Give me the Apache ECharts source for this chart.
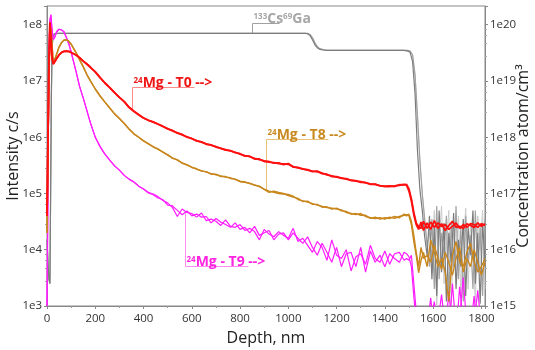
<!DOCTYPE html>
<html>
<head>
<meta charset="utf-8">
<script src="https://cdn.jsdelivr.net/npm/echarts@6/dist/echarts.min.js"></script>
<style>
html,body{margin:0;padding:0;background:#fff}
#main{width:535px;height:350px}
</style>
</head>
<body>
<div id="main"></div>
<script>
/* depth grid of the Mg profiles, nm */
const mgDepth=[0,4,8,12,16,20,26,32,40,50,60,70,80,90,100,110,120,135,150,165,180,200,220,240,260,280,300,320,340,360,380,400,
  420,440,460,480,500,520,540,560,580,600,
  620,640,660,680,700,720,740,760,780,800,
  820,840,860,880,900,920,940,960,980,1000,
  1020,1040,1060,1080,1100,1120,1140,1160,1180,1200,
  1220,1240,1260,1280,1300,1320,1340,1360,1380,1400,
  1420,1440,1460,1480,
  1490,1500,1510,1520,1530,1540,1550,1560,
  1575,1590,1605,1620,1635,1650,1665,1680,1695,1710,1725,1740,1755,1770,1785,1800,1815]

/* 24Mg - T0, two runs (c/s) */
const t0A=[4e4,1e6,2e7,1.1e8,6e7,2.8e7,2.0e7,2.2e7,2.5e7,2.9e7,3.2e7,3.35e7,3.4e7,3.35e7,3.2e7,3.05e7,2.9e7,2.6e7,2.25e7,2.0e7,1.75e7,1.45e7,1.15e7,9.2e6,7.6e6,6.2e6,5.1e6,4.3e6,3.4e6,2.9e6,2.5e6,2.2e6,
  2.0e6,1.85e6,1.72e6,1.55e6,1.42e6,1.3e6,1.2e6,1.1e6,1.02e6,9.4e5,
  8.7e5,8.2e5,7.6e5,7.2e5,6.8e5,6.3e5,6.0e5,5.7e5,5.4e5,5.0e5,
  4.7e5,4.5e5,4.2e5,4.0e5,3.8e5,3.6e5,3.55e5,3.4e5,3.35e5,3.3e5,
  3.0e5,2.85e5,2.75e5,2.6e5,2.5e5,2.45e5,2.3e5,2.15e5,2.05e5,1.95e5,
  1.9e5,1.8e5,1.72e5,1.66e5,1.62e5,1.55e5,1.48e5,1.45e5,1.38e5,1.32e5,
  1.33e5,1.36e5,1.4e5,1.45e5,
  1.4e5,1.1e5,7.4e4,4.2e4,2.8e4,2.3e4,3.1e4,2.2e4,
  3.0e4,2.3e4,3.3e4,2.4e4,2.9e4,2.2e4,2.7e4,3.2e4,2.5e4,2.6e4,2.4e4,2.9e4,2.7e4,2.5e4,3.0e4,2.6e4,2.9e4]
const t0B=[4e4,1e6,2e7,1.1e8,6e7,2.8e7,2.0e7,2.2e7,2.5e7,2.9e7,3.2e7,3.35e7,3.4e7,3.35e7,3.2e7,3.05e7,2.9e7,2.6e7,2.25e7,2.0e7,1.75e7,1.45e7,1.15e7,9.2e6,7.6e6,6.2e6,5.1e6,4.3e6,3.4e6,2.9e6,2.5e6,2.2e6,
  2.0e6,1.87e6,1.7e6,1.57e6,1.4e6,1.32e6,1.18e6,1.12e6,1.0e6,9.5e5,
  8.6e5,8.3e5,7.5e5,7.3e5,6.7e5,6.4e5,5.9e5,5.8e5,5.3e5,5.1e5,
  4.6e5,4.6e5,4.1e5,4.1e5,3.7e5,3.7e5,3.45e5,3.5e5,3.25e5,3.4e5,
  2.95e5,2.9e5,2.7e5,2.65e5,2.45e5,2.5e5,2.25e5,2.2e5,2.0e5,2.0e5,
  1.85e5,1.83e5,1.7e5,1.69e5,1.58e5,1.57e5,1.45e5,1.47e5,1.36e5,1.35e5,
  1.36e5,1.33e5,1.43e5,1.42e5,
  1.45e5,1.2e5,8.0e4,4.6e4,3.0e4,2.6e4,2.4e4,3.2e4,
  2.4e4,3.1e4,2.5e4,3.0e4,2.6e4,2.8e4,2.3e4,2.6e4,3.0e4,2.4e4,2.8e4,2.5e4,2.9e4,2.8e4,2.5e4,2.9e4,2.7e4]

/* 24Mg - T8 */
const t8A=[2e4,5e5,1e7,6e7,8.5e7,5e7,2.1e7,2.4e7,3.0e7,4.0e7,4.8e7,5.3e7,5.4e7,5.1e7,4.5e7,3.8e7,3.2e7,2.4e7,1.8e7,1.3e7,1.0e7,7.2e6,5.4e6,4.2e6,3.3e6,2.6e6,2.15e6,1.75e6,1.4e6,1.15e6,1.0e6,8.6e5,
  7.6e5,6.8e5,6.1e5,5.5e5,4.8e5,4.3e5,3.9e5,3.5e5,3.2e5,2.95e5,
  2.7e5,2.55e5,2.4e5,2.25e5,2.15e5,2.05e5,1.95e5,1.9e5,1.78e5,1.65e5,
  1.6e5,1.5e5,1.42e5,1.32e5,1.2e5,1.1e5,1.05e5,1.0e5,9.8e4,9.6e4,
  9.0e4,7.8e4,7.4e4,7.0e4,6.6e4,6.2e4,5.9e4,5.6e4,5.5e4,5.3e4,
  5.1e4,4.6e4,4.4e4,4.2e4,4.4e4,3.9e4,3.7e4,3.6e4,3.7e4,3.5e4,
  3.8e4,3.6e4,3.9e4,4.1e4,
  4.2e4,4.0e4,2.8e4,1.4e4,8.0e3,3.9e3,6.5e3,9.0e3,
  5e3,1.5e4,9e3,5e3,7e3,4e3,1.2e3,8e3,1.4e4,6e3,5e3,9e3,1.3e4,6e3,4e3,5e3,7e3]
const t8B=[2e4,5e5,1e7,6e7,8.5e7,5e7,2.1e7,2.4e7,3.0e7,4.0e7,4.8e7,5.3e7,5.4e7,5.1e7,4.5e7,3.8e7,3.2e7,2.4e7,1.8e7,1.3e7,1.0e7,7.2e6,5.4e6,4.2e6,3.3e6,2.6e6,2.15e6,1.75e6,1.4e6,1.15e6,1.0e6,8.6e5,
  7.7e5,6.7e5,6.2e5,5.4e5,4.9e5,4.2e5,4.0e5,3.45e5,3.25e5,2.9e5,
  2.75e5,2.5e5,2.45e5,2.2e5,2.2e5,2.0e5,2.0e5,1.85e5,1.8e5,1.62e5,
  1.58e5,1.53e5,1.4e5,1.35e5,1.18e5,1.05e5,1.1e5,1.04e5,1.0e5,9.2e4,
  8.6e4,8.2e4,7.2e4,7.3e4,6.4e4,6.4e4,5.7e4,5.8e4,5.3e4,5.5e4,
  4.9e4,4.8e4,4.3e4,4.4e4,4.1e4,4.1e4,3.6e4,3.8e4,3.5e4,3.7e4,
  3.6e4,3.9e4,3.7e4,4.3e4,
  4.0e4,4.3e4,3.2e4,1.8e4,9.0e3,5.0e3,1.1e4,7.0e3,
  8e3,6e3,1.2e4,7e3,4.5e3,9e3,6e3,3.5e3,7e3,1.1e4,4e3,7e3,5e3,1.0e4,6e3,3.5e3,6e3]

/* 24Mg - T9 */
const t9A=[1e3,1e5,3e7,1.2e8,1.5e8,9e7,5.4e7,6e7,7.5e7,8.3e7,8.1e7,7.5e7,6.0e7,4.6e7,3.3e7,2.2e7,1.5e7,8e6,5e6,3e6,1.8e6,1.0e6,6.8e5,5.0e5,3.9e5,3.1e5,2.6e5,2.1e5,1.8e5,1.6e5,1.35e5,1.2e5,
  1.05e5,9.8e4,8.8e4,7.5e4,6.8e4,5.6e4,3.9e4,5.3e4,4.6e4,4.4e4,
  3.8e4,4.5e4,3.3e4,3.5e4,3.2e4,2.7e4,3.4e4,2.6e4,2.5e4,2.8e4,
  2.2e4,2.4e4,2.1e4,1.5e4,2.3e4,1.9e4,1.7e4,2.1e4,1.8e4,1.6e4,
  2.4e4,1.4e4,1.6e4,1.2e4,9.0e3,1.4e4,1.1e4,6.5e3,1.5e4,8.0e3,
  7.0e3,1.0e4,4.2e3,7.5e3,8.5e3,5.5e3,1.2e4,7.0e3,6.0e3,9.5e3,
  5.5e3,8.5e3,9.0e3,6.5e3,
  7.0e3,6.5e3,8.0e3,2.5e3,800,300,500,300,
  400,1.4e3,300,500,1.6e3,400,300,2.5e3,400,600,3.2e3,400,300,500,1.9e3,400,300]
const t9B=[1e3,1e5,3e7,1.2e8,1.5e8,9e7,5.4e7,6e7,7.5e7,8.3e7,8.1e7,7.5e7,6.0e7,4.6e7,3.3e7,2.2e7,1.5e7,8e6,5e6,3e6,1.8e6,1.0e6,6.8e5,5.0e5,3.9e5,3.1e5,2.6e5,2.1e5,1.8e5,1.6e5,1.35e5,1.2e5,
  1.02e5,9.5e4,8.3e4,7.8e4,6.2e4,6.0e4,5.0e4,4.2e4,4.9e4,4.0e4,
  4.3e4,3.8e4,3.9e4,3.0e4,3.6e4,3.1e4,2.8e4,2.5e4,3.0e4,2.3e4,
  2.5e4,2.0e4,2.6e4,1.8e4,2.0e4,2.2e4,1.5e4,1.9e4,2.0e4,1.5e4,
  2.0e4,1.6e4,1.3e4,1.7e4,1.1e4,8.0e3,1.3e4,9.0e3,6.0e3,1.1e4,
  5.0e3,8.5e3,9.0e3,5.0e3,1.1e4,4.0e3,9.5e3,6.0e3,8.0e3,5.0e3,
  8.5e3,7.0e3,6.0e3,9.0e3,
  8.5e3,7.5e3,5.0e3,1.5e3,500,400,300,600,
  300,500,1.2e3,300,400,300,1.8e3,400,300,2.2e3,500,300,400,1.5e3,300,600,400]

/* 133Cs69Ga matrix signal */
const csDepth=[0,5,8,12,15,18,21,25,30,40,60,
  1070,1080,1090,1100,1110,1120,1130,1145,1160,
  1480,1495,1505,1515,1525,1535,1545,1555,1565,1575,
  1585,1595,1605,1615,1625,1635,1645,1655,1665,1675,1685,1695,1705,1715,1725,1735,1745,1755,1765,1775,1785,1795,1805,1815]
const csA=[1.5e4,5e3,3e3,2.5e3,1e5,5e6,4e7,6.2e7,6.8e7,7.0e7,7.0e7,
  7.0e7,6.9e7,6.4e7,5.4e7,4.4e7,3.9e7,3.65e7,3.55e7,3.5e7,
  3.5e7,3.4e7,3.2e7,2.2e7,6e6,6e5,1.2e5,5e4,1.7e4,8e3,
  4e4,3e3,2.5e4,1.5e3,5e4,4e3,3e4,1.2e3,2e4,6e3,4.5e4,2e3,1.5e4,5e3,3.5e4,1.5e3,2.5e4,8e3,5e4,2.5e3,2e4,1.1e3,3e4,6e3]
const csB=[1.5e4,5e3,3e3,2.5e3,1e5,5e6,4e7,6.2e7,6.8e7,7.0e7,7.0e7,
  7.0e7,7.0e7,6.7e7,5.9e7,4.8e7,4.1e7,3.75e7,3.6e7,3.5e7,
  3.5e7,3.5e7,3.4e7,2.9e7,1.3e7,2.5e6,4e5,1e5,3.5e4,1.2e4,
  5e3,3.5e4,2e3,6e4,3e3,2e4,8e3,4e4,1.5e3,3e4,5e3,6e4,3e3,2.5e4,1.2e3,4e4,6e3,1.8e4,2e3,5e4,4e3,2.5e4,1.5e3,3.5e4]
const csC=[1.5e4,5e3,3e3,2.5e3,1e5,5e6,4e7,6.2e7,6.8e7,7.0e7,7.0e7,
  7.0e7,7.0e7,6.7e7,5.9e7,4.8e7,4.1e7,3.75e7,3.6e7,3.5e7,
  3.5e7,3.5e7,3.4e7,2.9e7,1.3e7,2.5e6,4e5,1e5,3.5e4,1.2e4,
  2e4,8e3,5e4,1e3,1.5e4,6e4,2.5e3,1.2e4,5e4,1e3,2e4,7e3,4e4,1.5e3,1.2e4,5.5e4,2e3,3e4,9e3,1.2e3,4e4,1e4,5e4,2e3]

const FONT='Open Sans'

function pairs(depth,vals){
  return depth.map((d,i)=>[d,vals[i]])
}
/* only label the whole decades: 1e3, 1e4 ... */
function decade(v){
  let p=Math.log10(v)
  return Math.abs(p-Math.round(p))<1e-6 ? '1e'+Math.round(p) : ''
}
function line(name,depth,vals,color,width){
  return {
    name:name,type:'line',data:pairs(depth,vals),showSymbol:false,
    lineStyle:{color:color,width:width},itemStyle:{color:color},
    emphasis:{disabled:true},animation:false
  }
}
function logAxis(min,max,pos,title,gap){
  return {
    type:'log',logBase:10,min:min,max:max,position:pos,
    name:title,nameLocation:'middle',nameGap:gap,nameRotate:90,nameMoveOverlap:false,
    nameTextStyle:{fontFamily:FONT,fontSize:16,color:'#222'},
    axisLine:{show:true,lineStyle:{color:'#888'}},
    axisTick:{show:true,length:3,lineStyle:{color:'#888'}},
    minorTick:{show:true,splitNumber:5,length:2,lineStyle:{color:'#aaa'}},
    axisLabel:{formatter:decade,fontFamily:FONT,fontSize:11.5,color:'#333',margin:5,showMaxLabel:false},
    splitLine:{show:false}
  }
}

const chart=echarts.init(document.getElementById('main'))
chart.setOption({
  backgroundColor:'#fff',
  animation:false,
  grid:{left:47,right:50,top:6,bottom:44,containLabel:false,outerBoundsMode:'none',
    show:true,borderColor:'#888',borderWidth:1,backgroundColor:'transparent'},
  xAxis:{
    type:'value',min:0,max:1815,interval:200,
    name:'Depth, nm',nameLocation:'middle',nameGap:24,nameMoveOverlap:false,
    nameTextStyle:{fontFamily:FONT,fontSize:16,color:'#222'},
    axisLine:{lineStyle:{color:'#888'}},
    axisTick:{show:true,length:3,lineStyle:{color:'#888'}},
    minorTick:{show:true,splitNumber:2,length:2,lineStyle:{color:'#999'}},
    axisLabel:{formatter:v=>String(v),fontFamily:FONT,fontSize:11.5,color:'#333',margin:7,showMaxLabel:false},
    splitLine:{show:false}
  },
  yAxis:[
    logAxis(1e3,2.15e8,'left','Intensity c/s',26),
    logAxis(1e15,2.15e20,'right','Concentration atom/cm³',30)
  ],
  series:[
    line('Cs69Ga c',csDepth,csC,'#cacaca',1),
    line('Cs69Ga b',csDepth,csB,'#a2a2a2',1.2),
    line('Cs69Ga a',csDepth,csA,'#7c7c7c',1.2),
    line('T9 a',mgDepth,t9A,'#ff1cff',1.2),
    line('T9 b',mgDepth,t9B,'#ff1cff',1.2),
    line('T8 a',mgDepth,t8A,'#c8861c',1.4),
    line('T8 b',mgDepth,t8B,'#c8861c',1.4),
    line('T0 a',mgDepth,t0A,'#ff1010',1.8),
    line('T0 b',mgDepth,t0B,'#ff1010',1.8)
  ]
})

/* callout labels: anchored on a data point, leader goes up/down then right */
const notes=[
  {sup:['24'],main:['Mg - T0 -->'],color:'#f01515',lead:'#ff8a8a',at:[354,2.95e6],dy:-24,len:62},
  {sup:['24'],main:['Mg - T8 -->'],color:'#c88a20',lead:'#e8c078',at:[908,1.1e5],dy:-52,len:62},
  {sup:['24'],main:['Mg - T9 -->'],color:'#ff22e0',lead:'#ff8cf0',at:[571,4.4e4],dy:52,len:63},
  {sup:['133','69'],main:['Cs','Ga'],color:'#a6a6a6',lead:'#a0a0a0',at:[851,7.0e7],dy:-10,len:27}
]
let graphic=[]
notes.forEach(n=>{
  let p=chart.convertToPixel({xAxisIndex:0,yAxisIndex:0},n.at)
  let x=Math.round(p[0])+0.5, y0=p[1], y1=Math.round(p[1]+n.dy)+0.5
  graphic.push({
    type:'polyline',silent:true,
    shape:{points:[[x,y0],[x,y1],[x+n.len,y1]]},
    style:{stroke:n.lead,lineWidth:1,fill:null}
  })
  let txt=''
  n.main.forEach((m,i)=>{ txt+='{s|'+n.sup[i]+'}{b|'+m+'}' })
  graphic.push({
    type:'text',silent:true,x:x+1,y:y1+3,
    style:{
      text:txt,textAlign:'left',textVerticalAlign:'bottom',
      rich:{
        s:{fontFamily:FONT,fontSize:8,fontWeight:'bold',fill:n.color,verticalAlign:'top'},
        b:{fontFamily:FONT,fontSize:14,fontWeight:'bold',fill:n.color}
      }
    }
  })
})
chart.setOption({graphic:graphic})
</script>
</body>
</html>
